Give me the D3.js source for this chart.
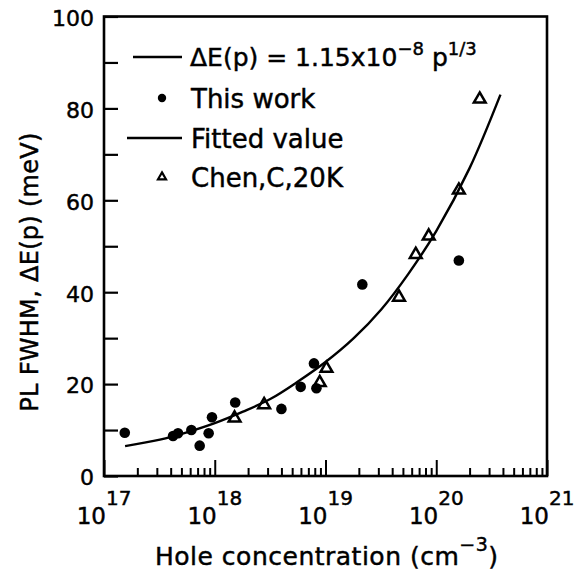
<!DOCTYPE html>
<html>
<head>
<meta charset="utf-8">
<script src="https://cdn.jsdelivr.net/npm/d3@7"></script>
<style>
  body { margin: 0; background: #fff; }
  svg { display: block; font-family: "DejaVu Sans", sans-serif; }
  text { white-space: pre; stroke: #000; stroke-width: 0.45px; }
</style>
</head>
<body>
<div id="chart"></div>
<script>
// This work (filled circles)
const thisWorkP = [1.54e17, 4.2e17, 4.66e17, 6.15e17, 7.31e17, 8.81e17, 9.44e17, 1.53e18, 4.0e18, 5.97e18, 7.87e18, 8.28e18, 2.15e19, 1.6e20];
const thisWorkFwhm = [9.4, 8.7, 9.3, 10.0, 6.6, 9.3, 12.8, 16.0, 14.6, 19.4, 24.5, 19.1, 41.7, 46.9];

// Chen,C,20K (open triangles)
const chenP = [1.51e18, 2.79e18, 8.87e18, 1.02e19, 4.61e19, 6.53e19, 8.55e19, 1.6e20, 2.47e20];
const chenFwhm = [12.6, 15.5, 20.3, 23.4, 38.9, 48.2, 52.2, 62.2, 82.0];

// Fitted value
const fitP = [1.55e17, 3.2e17, 5.6e17, 1e18, 1.8e18, 3.2e18, 5.6e18, 1e19, 1.8e19, 3.2e19, 5.6e19, 1e20, 2e20, 3.8e20];
const fitFwhm = [6.5, 7.9, 9.5, 11.5, 14.0, 16.8, 20.5, 24.8, 30.0, 36.3, 44.0, 53.3, 67.0, 83.0];

// Axis ticks
const xDecades = [17, 18, 19, 20, 21];
const yTicks = [0, 10, 20, 30, 40, 50, 60, 70, 80, 90, 100];
const yLabels = [0, 20, 40, 60, 80, 100];

const width = 574;
const height = 575;
const margin = {left: 104, right: 27, top: 16.5, bottom: 99};

const svg = d3.select("#chart").append("svg")
    .attr("width", width)
    .attr("height", height);

const x = d3.scaleLog()
    .domain([1e17, 1e21])
    .range([margin.left, width - margin.right]);

const y = d3.scaleLinear()
    .domain([0, 100])
    .range([height - margin.bottom, margin.top]);

// Y axis, ticks pointing inward
const yAxis = svg.append("g")
    .attr("transform", `translate(${margin.left},0)`)
    .call(d3.axisLeft(y)
        .tickValues(yTicks)
        .tickSizeInner(-14)
        .tickSizeOuter(0)
        .tickPadding(10)
        .tickFormat(d => yLabels.includes(d) ? d : ""));
yAxis.select(".domain").remove();
yAxis.selectAll("line").attr("stroke", "#000").attr("stroke-width", 2.2);
yAxis.selectAll("text")
    .attr("font-size", 22)
    .attr("font-family", "DejaVu Sans")
    .attr("fill", "#000")
    .attr("dy", "0.4em");

// X axis, log minor ticks pointing inward
const isDecade = d => Math.abs(Math.log10(d) - Math.round(Math.log10(d))) < 1e-9;
const xAxis = svg.append("g")
    .attr("transform", `translate(0,${height - margin.bottom})`)
    .call(d3.axisBottom(x)
        .tickValues(x.ticks())
        .tickSizeInner(-8)
        .tickSizeOuter(0)
        .tickFormat(""));
xAxis.select(".domain").remove();
xAxis.selectAll("line")
    .attr("stroke", "#000")
    .attr("stroke-width", 2)
    .attr("y2", d => isDecade(d) ? -16 : -8);

// Decade labels 10^n
const xLabel = svg.append("g")
    .selectAll("text")
    .data(xDecades)
    .join("text")
    .attr("x", d => x(Math.pow(10, d)))
    .attr("y", height - margin.bottom + 48)
    .attr("text-anchor", "middle")
    .attr("font-size", 23);
xLabel.append("tspan").text("10");
xLabel.append("tspan")
    .attr("dy", -19)
    .attr("font-size", 20)
    .text(d => d);

// Frame
svg.append("rect")
    .attr("x", margin.left)
    .attr("y", margin.top)
    .attr("width", width - margin.right - margin.left)
    .attr("height", height - margin.bottom - margin.top)
    .attr("fill", "none")
    .attr("stroke", "#000")
    .attr("stroke-width", 2.6);

// Fitted curve
const fitData = fitP.map((p, i) => ({p: p, v: fitFwhm[i]}));
svg.append("path")
    .datum(fitData)
    .attr("fill", "none")
    .attr("stroke", "#000")
    .attr("stroke-width", 2.4)
    .attr("d", d3.line()
        .x(d => x(d.p))
        .y(d => y(d.v))
        .curve(d3.curveCatmullRom));

// This work points
svg.append("g")
    .selectAll("circle")
    .data(thisWorkP.map((p, i) => ({p: p, v: thisWorkFwhm[i]})))
    .join("circle")
    .attr("cx", d => x(d.p))
    .attr("cy", d => y(d.v))
    .attr("r", 5.3)
    .attr("fill", "#000");

// Chen points
const tri = d3.symbol().type(d3.symbolTriangle).size(60);
svg.append("g")
    .selectAll("path")
    .data(chenP.map((p, i) => ({p: p, v: chenFwhm[i]})))
    .join("path")
    .attr("d", tri)
    .attr("transform", d => `translate(${x(d.p)},${y(d.v)})`)
    .attr("fill", "none")
    .attr("stroke", "#000")
    .attr("stroke-width", 2.5);

// Legend
const legend = svg.append("g");
legend.append("line")
    .attr("x1", 133).attr("x2", 182).attr("y1", 57).attr("y2", 57)
    .attr("stroke", "#000").attr("stroke-width", 2.4);
const formula = legend.append("text")
    .attr("x", 190).attr("y", 66)
    .attr("font-size", 25);
formula.append("tspan").text("ΔE(p) = 1.15x10");
formula.append("tspan").attr("dy", -11).attr("font-size", 18).text("−8");
formula.append("tspan").attr("dy", 11).text(" p");
formula.append("tspan").attr("dy", -11).attr("font-size", 18).text("1/3");

legend.append("circle")
    .attr("cx", 162).attr("cy", 98).attr("r", 4.2).attr("fill", "#000");
legend.append("text")
    .attr("x", 191).attr("y", 108).attr("font-size", 26)
    .text("This work");

legend.append("line")
    .attr("x1", 127).attr("x2", 182).attr("y1", 138).attr("y2", 138)
    .attr("stroke", "#000").attr("stroke-width", 2.4);
legend.append("text")
    .attr("x", 191).attr("y", 148).attr("font-size", 26)
    .text("Fitted value");

legend.append("path")
    .attr("d", d3.symbol().type(d3.symbolTriangle).size(28))
    .attr("transform", "translate(162,177)")
    .attr("fill", "none").attr("stroke", "#000").attr("stroke-width", 2.2);
legend.append("text")
    .attr("x", 191).attr("y", 187).attr("font-size", 26)
    .text("Chen,C,20K");

// Axis titles
const xTitle = svg.append("text")
    .attr("x", 155)
    .attr("y", 565)
    .attr("font-size", 25)
    .attr("letter-spacing", 0.5);
xTitle.append("tspan").text("Hole concentration (cm");
xTitle.append("tspan").attr("dy", -14).attr("font-size", 19).text("−3");
xTitle.append("tspan").attr("dy", 14).text(")");

svg.append("text")
    .attr("transform", "translate(38,272) rotate(-90)")
    .attr("text-anchor", "middle")
    .attr("font-size", 24)
    .attr("letter-spacing", 0.3)
    .text("PL FWHM, ΔE(p) (meV)");
</script>
</body>
</html>
